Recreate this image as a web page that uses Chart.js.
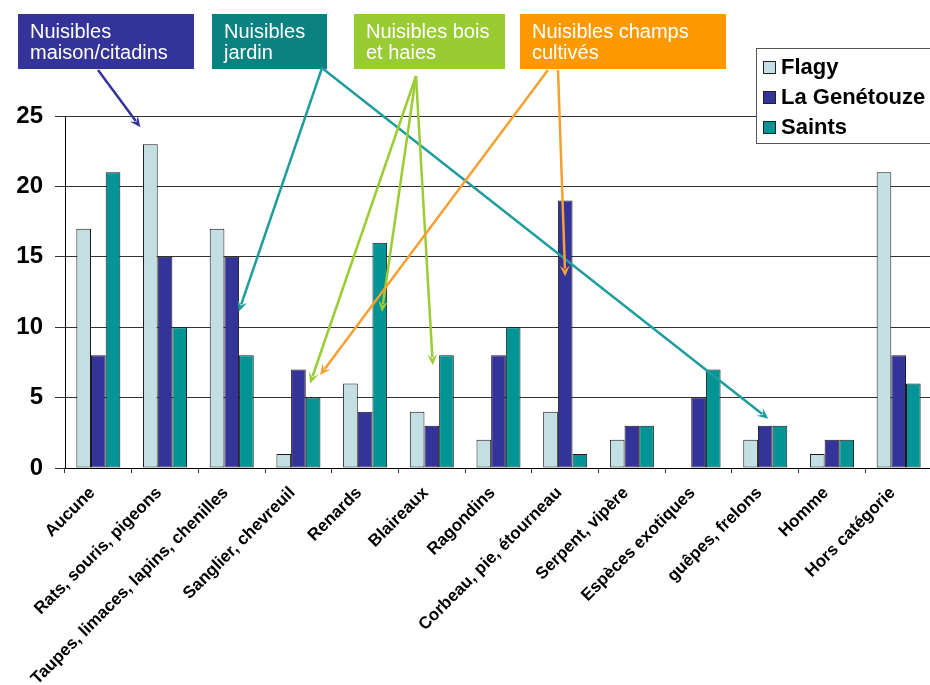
<!DOCTYPE html>
<html>
<head>
<meta charset="utf-8">
<style>
  html, body { margin: 0; padding: 0; background: #fff; overflow: hidden; }
  #wrap { position: relative; width: 940px; height: 685px; }
</style>
<script src="https://cdn.jsdelivr.net/npm/chart.js@4.4.0/dist/chart.umd.min.js"></script>
</head>
<body>
<div id="wrap"><canvas id="chart" width="940" height="685"></canvas></div>
<script>
// Data
const categories = [
    'Aucune', 'Rats, souris, pigeons', 'Taupes, limaces, lapins, chenilles',
    'Sanglier, chevreuil', 'Renards', 'Blaireaux', 'Ragondins',
    'Corbeau, pie, étourneau', 'Serpent, vipère', 'Espèces exotiques',
    'guêpes, frelons', 'Homme', 'Hors catégorie'
];
const seriesNames = ['Flagy', 'La Genétouze', 'Saints'];
const flagy     = [17, 23, 17, 1, 6, 4, 2, 4, 2, 0, 2, 1, 21];
const genetouze = [8, 15, 15, 7, 4, 3, 8, 19, 3, 5, 3, 2, 8];
const saints    = [21, 10, 8, 5, 16, 8, 10, 1, 3, 7, 3, 2, 6];
const yTicks = [0, 5, 10, 15, 20, 25];

const seriesColors = ['#c3dfe4', '#333399', '#009494'];

// Group labels (boxes at the top) and the arrows that point to bars
const groupLabels = [
    ['Nuisibles', 'maison/citadins'],
    ['Nuisibles', 'jardin'],
    ['Nuisibles bois', 'et haies'],
    ['Nuisibles champs', 'cultivés']
];
const groupColors = ['#333399', '#0a8282', '#99cc33', '#ff9900'];
const arrowColors = ['#333399', '#1f9c9c', '#9acd32', '#f5a030'];
const groupBoxes = [
    { x: 18, y: 14, w: 176, h: 55 },
    { x: 212, y: 14, w: 115, h: 55 },
    { x: 354, y: 14, w: 151, h: 55 },
    { x: 520, y: 14, w: 206, h: 55 }
];
// arrow: group, start point, target (category, series, value on y axis, x nudge)
const arrows = [
    { group: 0, from: [98, 70], cat: 1, ds: 0, value: 24.2, dx: -10 },
    { group: 1, from: [322, 68], cat: 2, ds: 1, value: 11.1, dx: 7 },
    { group: 1, from: [322, 68], cat: 10, ds: 1, value: 3.5, dx: 3 },
    { group: 2, from: [416, 76], cat: 3, ds: 2, value: 6.0, dx: -3 },
    { group: 2, from: [416, 76], cat: 4, ds: 2, value: 11.1, dx: 2 },
    { group: 2, from: [416, 76], cat: 5, ds: 1, value: 7.3, dx: 1 },
    { group: 3, from: [548, 70], cat: 3, ds: 2, value: 6.6, dx: 7 },
    { group: 3, from: [558, 70], cat: 7, ds: 1, value: 13.6, dx: 0 }
];

const FONT = '"Liberation Sans", Arial, sans-serif';

function drawArrow(ctx, x1, y1, x2, y2, color) {
    const ang = Math.atan2(y2 - y1, x2 - x1);
    const len = 11, half = 5;
    ctx.strokeStyle = color;
    ctx.fillStyle = color;
    ctx.lineWidth = 2.5;
    ctx.beginPath();
    ctx.moveTo(x1, y1);
    ctx.lineTo(x2 - Math.cos(ang) * len * 0.7, y2 - Math.sin(ang) * len * 0.7);
    ctx.stroke();
    ctx.beginPath();
    ctx.moveTo(x2, y2);
    ctx.lineTo(x2 - Math.cos(ang) * len - Math.sin(ang) * half, y2 - Math.sin(ang) * len + Math.cos(ang) * half);
    ctx.lineTo(x2 - Math.cos(ang) * len * 0.6, y2 - Math.sin(ang) * len * 0.6);
    ctx.lineTo(x2 - Math.cos(ang) * len + Math.sin(ang) * half, y2 - Math.sin(ang) * len - Math.cos(ang) * half);
    ctx.closePath();
    ctx.fill();
}

const overlayPlugin = {
    id: 'overlay',
    afterDraw(chart) {
        const ctx = chart.ctx;
        const yScale = chart.scales.y;
        ctx.save();

        // group boxes
        groupBoxes.forEach((b, i) => {
            ctx.fillStyle = groupColors[i];
            ctx.fillRect(b.x, b.y, b.w, b.h);
            ctx.fillStyle = '#fff';
            ctx.font = '20px ' + FONT;
            ctx.textBaseline = 'alphabetic';
            ctx.textAlign = 'left';
            ctx.fillText(groupLabels[i][0], b.x + 12, b.y + 24);
            ctx.fillText(groupLabels[i][1], b.x + 12, b.y + 45);
        });

        // arrows to bars
        arrows.forEach(a => {
            const bar = chart.getDatasetMeta(a.ds).data[a.cat];
            const tx = bar.x + a.dx;
            const ty = yScale.getPixelForValue(a.value);
            drawArrow(ctx, a.from[0], a.from[1], tx, ty, arrowColors[a.group]);
        });

        // legend box
        const lx = 756, ly = 48, lw = 190, lh = 95;
        ctx.fillStyle = '#fff';
        ctx.fillRect(lx, ly, lw, lh);
        ctx.strokeStyle = '#555';
        ctx.lineWidth = 1;
        ctx.strokeRect(lx + 0.5, ly + 0.5, lw, lh);
        seriesNames.forEach((name, i) => {
            const cy = 67 + i * 30;
            ctx.fillStyle = seriesColors[i];
            ctx.fillRect(763, cy - 6, 13, 13);
            ctx.strokeStyle = '#222';
            ctx.strokeRect(763.5, cy - 5.5, 12, 12);
            ctx.fillStyle = '#000';
            ctx.font = 'bold 22px ' + FONT;
            ctx.textBaseline = 'middle';
            ctx.fillText(name, 781, cy + 1);
        });
        ctx.restore();
    }
};

const ctx = document.getElementById('chart').getContext('2d');
const chart = new Chart(ctx, {
    type: 'bar',
    data: {
        labels: categories,
        datasets: [flagy, genetouze, saints].map((vals, i) => ({
            label: seriesNames[i],
            data: vals,
            backgroundColor: seriesColors[i],
            borderColor: '#1a1a1a',
            borderWidth: 1,
            borderSkipped: false,
            categoryPercentage: 0.66,
            barPercentage: 1.0
        }))
    },
    options: {
        responsive: false,
        animation: false,
        devicePixelRatio: 1,
        layout: { padding: { top: 116, right: 8, left: 0, bottom: 0 } },
        plugins: {
            legend: { display: false },
            tooltip: { enabled: false }
        },
        scales: {
            x: {
                afterFit(scale) { scale.height = 217; },
                grid: {
                    drawOnChartArea: false,
                    drawTicks: true,
                    tickLength: 5,
                    color: '#333'
                },
                border: { color: '#000', width: 1 },
                ticks: {
                    minRotation: 45,
                    maxRotation: 45,
                    autoSkip: false,
                    padding: 10,
                    labelOffset: -6,
                    color: '#000',
                    font: { family: FONT, size: 17, weight: 'bold' }
                }
            },
            y: {
                min: 0,
                max: 25,
                afterFit(scale) { scale.width = 65; },
                afterBuildTicks(scale) {
                    scale.ticks = yTicks.map(v => ({ value: v }));
                },
                grid: {
                    color: '#333',
                    lineWidth: 1,
                    tickLength: 10
                },
                border: { color: '#000', width: 1 },
                ticks: {
                    padding: 12,
                    color: '#000',
                    font: { family: FONT, size: 24, weight: 'bold' }
                }
            }
        }
    },
    plugins: [overlayPlugin]
});
</script>
</body>
</html>
